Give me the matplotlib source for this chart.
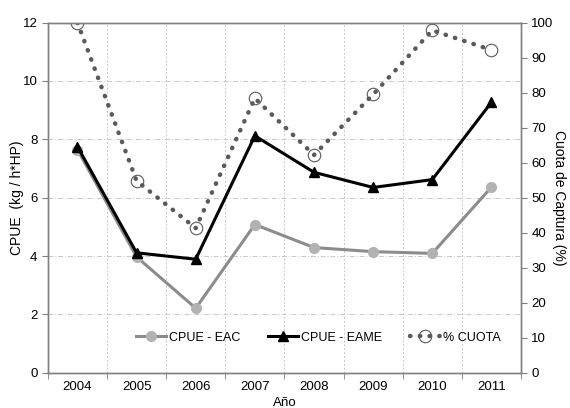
import numpy as np
import matplotlib.pyplot as plt

plt.rcParams['font.family'] = ['Liberation Sans', 'DejaVu Sans']

years = ['2004', '2005', '2006', '2007', '2008', '2009', '2010', '2011']
cpue_eac = [7.65, 3.97, 2.21, 5.08, 4.29, 4.15, 4.09, 6.36]
cpue_eame = [7.75, 4.11, 3.89, 8.12, 6.87, 6.35, 6.62, 9.27]
cuota = [100, 54.8, 41.3, 78.4, 62.2, 79.5, 97.8, 92.2]

x = np.arange(len(years))

fig = plt.figure(figsize=(5.7, 4.08), dpi=100)
ax = fig.add_axes([0.084, 0.0865, 0.830, 0.858])
ax2 = ax.twinx()

l1, = ax.plot(x, cpue_eac, color='#8c8c8c', lw=2.2, marker='o', ms=7,
              mfc='#b2b2b2', mec='#b2b2b2', label='CPUE - EAC', zorder=3)
l2, = ax.plot(x, cpue_eame, color='black', lw=2.2, marker='^', ms=7,
              label='CPUE - EAME', zorder=4)
l3, = ax2.plot(x, cuota, color='#5a5a5a', lw=3.2, ls=(0, (0.1, 2.1)),
               dash_capstyle='round', marker='o', ms=9, mfc='none',
               mec='#5a5a5a', mew=0.8, label='% CUOTA')

ax.set_xlim(-0.5, 7.5)
ax.set_ylim(0, 12)
ax2.set_ylim(0, 100)
ax.set_yticks(np.arange(0, 13, 2))
ax2.set_yticks(np.arange(0, 101, 10))

# category labels centred, ticks and grid on the category boundaries
ax.set_xticks(x)
ax.set_xticklabels(years)
ax.set_xticks(np.arange(-0.5, 8, 1), minor=True)
ax.tick_params(axis='x', which='major', length=0, pad=6, labelsize=9.5)
ax.tick_params(axis='x', which='minor', length=4, direction='out', color='#808080')
ax.tick_params(axis='y', length=4, direction='out', color='#808080', labelsize=9.5)
ax2.tick_params(axis='y', length=4, direction='out', color='#808080', labelsize=9.5)

ax.grid(True, axis='x', which='minor', color='#c8c8c8', lw=0.7, ls=(0, (2, 2)))
ax.grid(True, axis='y', which='major', color='#c8c8c8', lw=0.7, ls=(0, (5, 2, 1, 2)))
ax.set_axisbelow(True)

for a in (ax, ax2):
    for s in a.spines.values():
        s.set_color('#808080')
        s.set_linewidth(1.0)

ax.set_ylabel('CPUE  (kg / h*HP)', fontsize=10)
ax.yaxis.set_label_coords(-0.05, 0.5)
ax2.set_ylabel('Cuota de Captura (%)', fontsize=10, rotation=270, labelpad=9)
ax.set_xlabel('Año', fontsize=9.5, labelpad=3)

ax2.legend(handles=[l1, l2, l3], loc='center', bbox_to_anchor=(0.572, 0.1),
           ncol=3, frameon=False, fontsize=9, handlelength=2.4,
           columnspacing=2.2, handletextpad=0.25)

fig.savefig('out.png', dpi=100)
